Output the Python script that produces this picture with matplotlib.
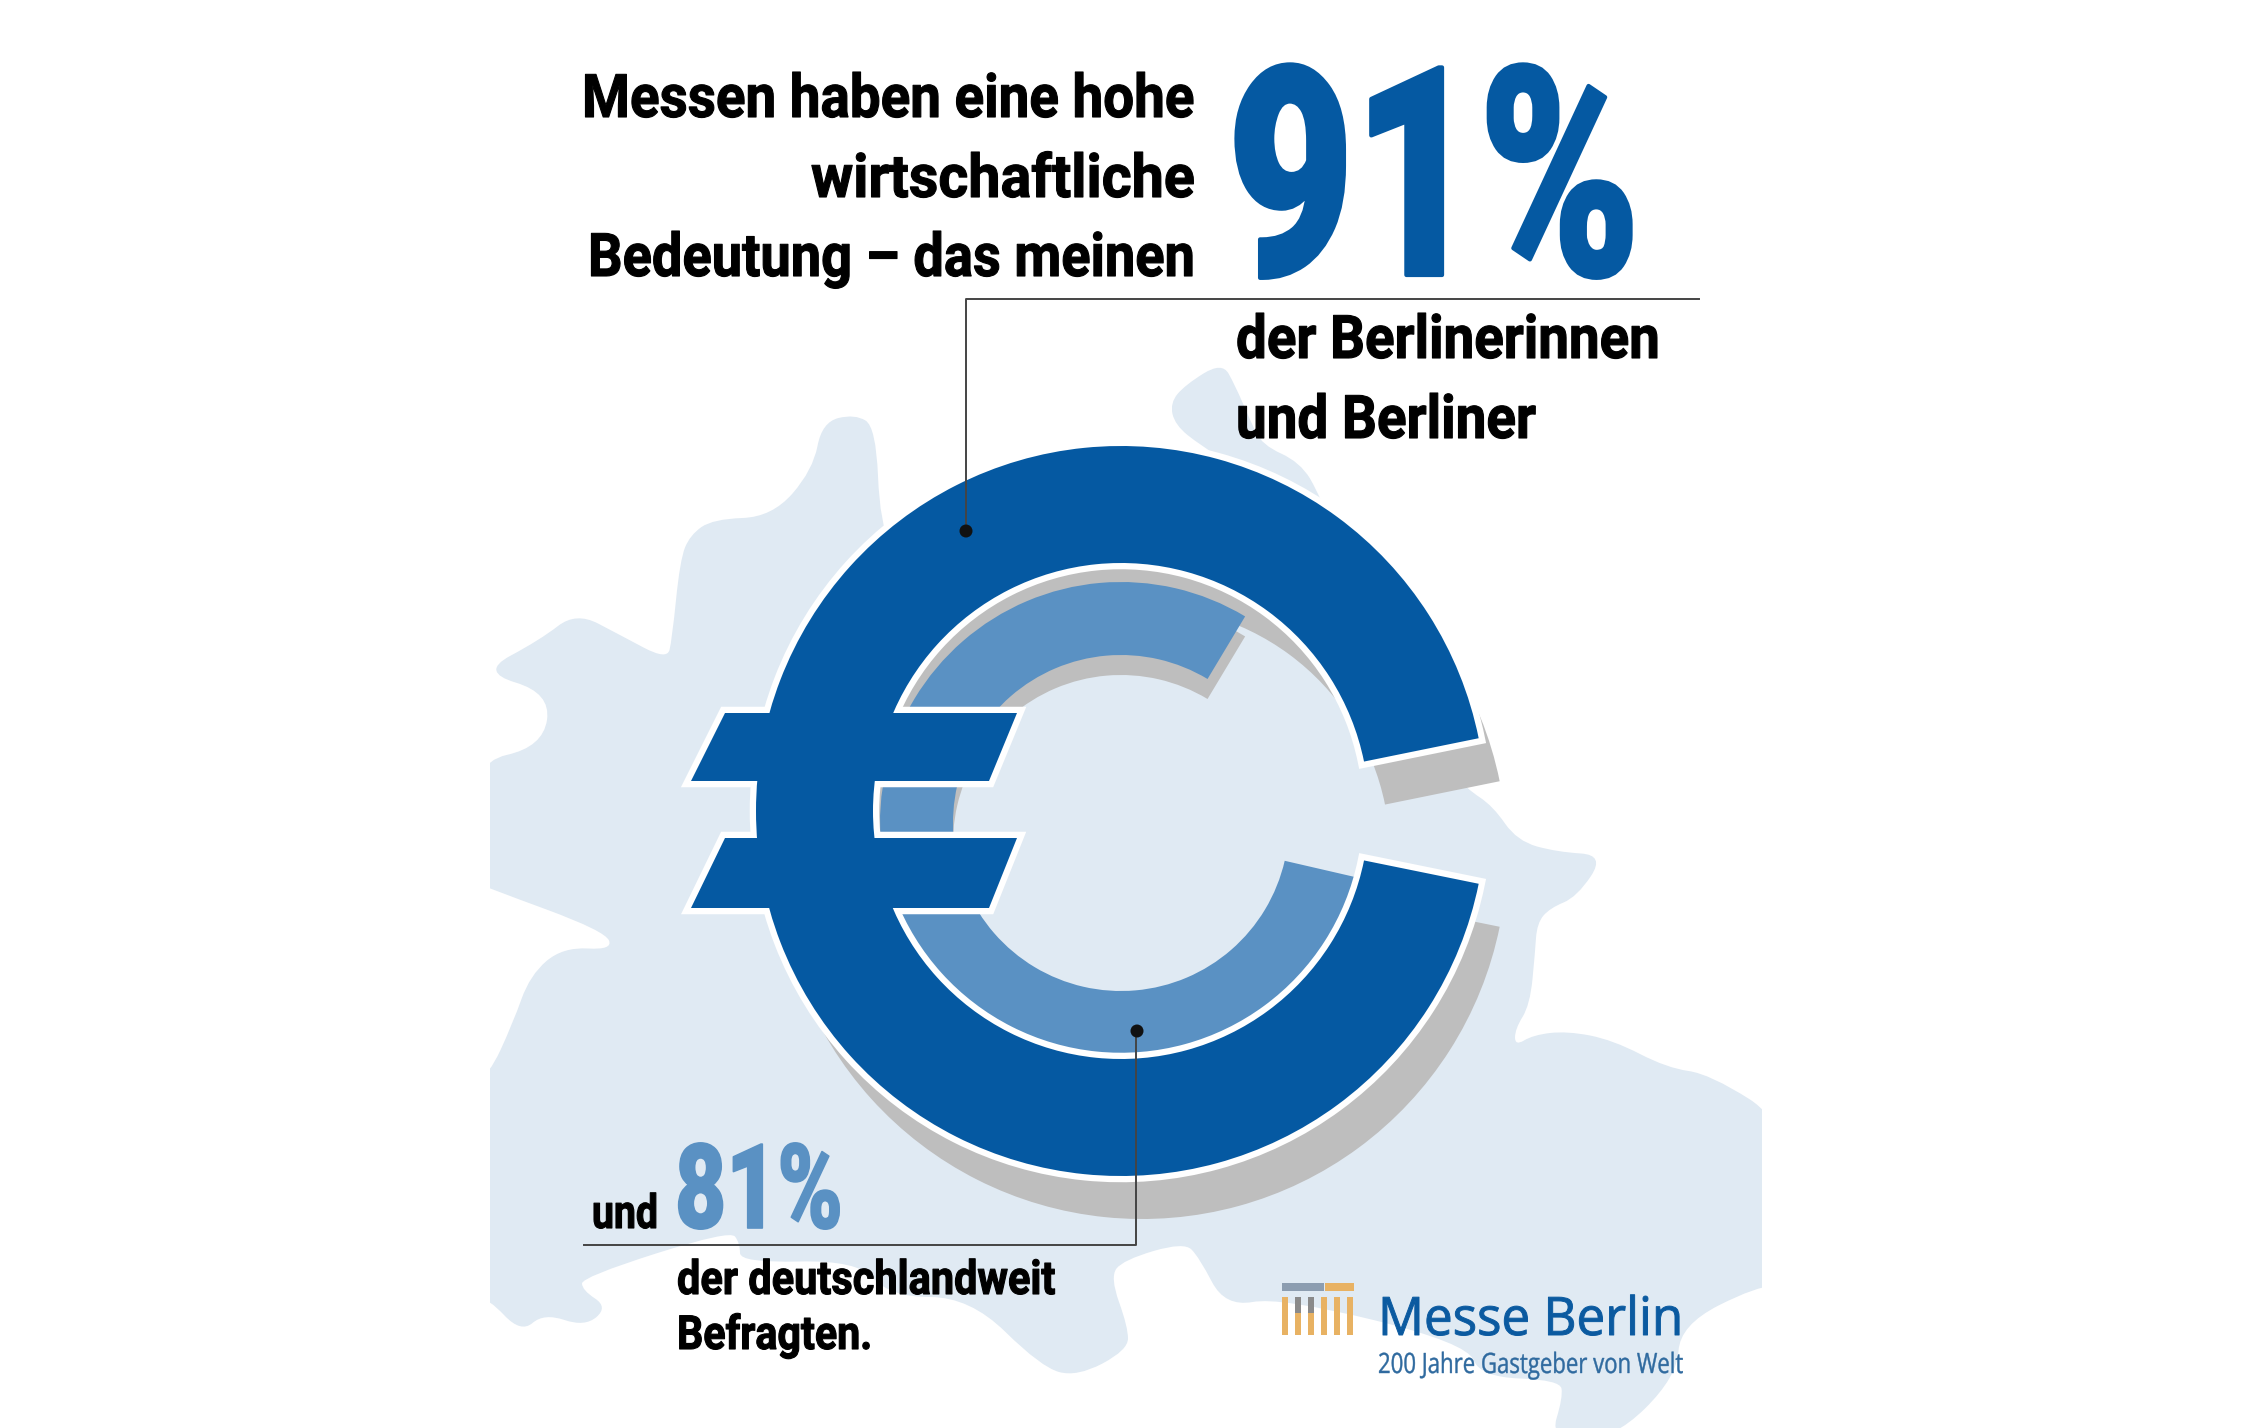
import matplotlib
matplotlib.use('Agg')
import matplotlib.pyplot as plt
from matplotlib.patches import Wedge, Polygon, Circle, PathPatch, Rectangle
from matplotlib.patheffects import AbstractPathEffect
from matplotlib.path import Path
from matplotlib.transforms import Affine2D, Bbox

# survey shares shown in the chart
shares = [91, 81]
headline = ['Messen haben eine hohe', 'wirtschaftliche', 'Bedeutung – das meinen']
sub_berlin = ['der Berlinerinnen', 'und Berliner']
sub_germany = ['der deutschlandweit', 'Befragten.']

BLUE = '#0559A2'
LIGHT = '#5A91C3'
MAP = '#E0EAF3'
SHADOW = '#BEBEBE'
LOGO = '#0B5AA0'

fig = plt.figure(figsize=(22.44, 14.28), dpi=100)
ax = fig.add_axes([0, 0, 1, 1])
ax.set_xlim(0, 2244)
ax.set_ylim(1428, 0)
ax.axis('off')
renderer = fig.canvas.get_renderer()


def to_display(x):
    return ax.transData.transform((x, 0))[0]


class Squeeze(AbstractPathEffect):
    # the original uses a condensed, heavy face: narrow the glyphs around the anchor, thicken a little
    def __init__(self, x, sx, stroke=0, color='k'):
        super().__init__()
        self.x, self.sx, self.stroke, self.color = x, sx, stroke, color

    def draw_path(self, renderer, gc, tpath, affine, rgbFace=None):
        x0 = to_display(self.x)
        aff = affine + Affine2D().translate(-x0, 0).scale(self.sx, 1).translate(x0, 0)
        gc0 = renderer.new_gc()
        gc0.copy_properties(gc)
        if self.stroke:
            gc0.set_linewidth(self.stroke)
            gc0.set_foreground(self.color)
        else:
            gc0.set_linewidth(0)
        renderer.draw_path(gc0, tpath, aff, rgbFace)
        gc0.restore()


def txt(x, y, s, em, width, color='#000000', ha='left', family='Roboto', weight='bold', stroke=0.0, z=10):
    t = ax.text(x, y, s, fontsize=em * 0.72, ha=ha, va='baseline', color=color,
                family=family, fontweight=weight, zorder=z)
    full_extent = t.get_window_extent
    w = full_extent(renderer).width
    sx = width / w
    t.set_path_effects([Squeeze(x, sx, stroke, color)])

    # report the narrowed box, not the one before squeezing
    def narrow_extent(renderer=None, dpi=None):
        b = full_extent(renderer, dpi)
        x0 = to_display(x)
        return Bbox.from_extents(x0 + (b.x0 - x0) * sx, b.y0, x0 + (b.x1 - x0) * sx, b.y1)
    t.get_window_extent = narrow_extent
    return t


def smooth(pts):
    mids = [((pts[i][0] + pts[(i + 1) % len(pts)][0]) / 2,
             (pts[i][1] + pts[(i + 1) % len(pts)][1]) / 2) for i in range(len(pts))]
    verts = [mids[-1]]
    codes = [Path.MOVETO]
    for p, m in zip(pts, mids):
        verts += [p, m]
        codes += [Path.CURVE3, Path.CURVE3]
    return Path(verts, codes)


# Berlin outline behind the euro sign
outline = [
    (470, 1298), (470, 1077), (488, 1077), (513, 1023), (530, 975), (563, 947), (613, 950), (605, 931),
    (488, 888), (470, 880), (470, 763), (543, 747), (551, 693), (480, 672), (540, 640), (576, 612),
    (620, 635), (667, 660), (672, 640), (680, 560), (690, 535), (713, 519), (772, 517), (813, 470),
    (822, 422), (855, 414), (876, 427), (880, 525),
    (900, 560), (1126, 500), (1240, 470), (1200, 445), (1175, 425), (1170, 403), (1185, 385), (1222, 362),
    (1235, 385), (1250, 420), (1262, 445), (1300, 462), (1320, 495), (1440, 760), (1467, 789), (1493, 806),
    (1517, 841), (1557, 852), (1605, 855), (1577, 897), (1550, 908), (1537, 923), (1535, 953), (1530, 1005),
    (1515, 1029), (1515, 1046), (1533, 1035), (1567, 1031), (1613, 1040), (1667, 1068), (1710, 1074),
    (1790, 1125), (1790, 1286), (1757, 1286), (1680, 1325), (1677, 1377), (1613, 1440), (1550, 1440),
    (1563, 1397), (1560, 1380), (1480, 1377), (1467, 1343), (1280, 1297), (1225, 1307), (1199, 1257),
    (1184, 1242), (1123, 1260), (1110, 1277), (1128, 1327), (1128, 1350), (1077, 1377), (1041, 1367),
    (970, 1297), (890, 1297), (858, 1260), (740, 1263), (740, 1243), (730, 1230), (582, 1277), (582, 1290),
    (608, 1307), (585, 1327), (544, 1313), (521, 1333), (488, 1298),
]
land = PathPatch(smooth(outline), fc=MAP, ec='none', zorder=1)
ax.add_patch(land)
land.set_clip_path(Rectangle((490, 0), 1272, 1428, transform=ax.transData))

# euro sign: outer ring and inner ring, angles
cx, cy = 1121, 811
R, r = 365, 248
ring_from, ring_to = 11.5, 348.5
lx, ly = 1121, 823
lR, lr = 241, 168
light_from, light_to = 13, 301

ax.add_patch(Wedge((cx + 21, cy + 43), R, ring_from, ring_to, width=R - r, fc=SHADOW, ec='none', zorder=2))
ax.add_patch(Wedge((lx, ly + 20), lR, light_from, light_to, width=lR - lr, fc=SHADOW, ec='none', zorder=3))
ax.add_patch(Wedge((lx, ly), lR, light_from, light_to, width=lR - lr, fc=LIGHT, ec='none', zorder=4))

bar_top = [(725, 713), (1017, 713), (989, 781), (691, 781)]
bar_low = [(725, 838), (1017, 838), (989, 908), (691, 908)]
ax.add_patch(Wedge((cx, cy), R, ring_from, ring_to, width=R - r, fc='white', ec='white', lw=9, zorder=5))
for bar in (bar_top, bar_low):
    ax.add_patch(Polygon(bar, closed=True, fc='white', ec='white', lw=9, zorder=5))
ax.add_patch(Wedge((cx, cy), R, ring_from, ring_to, width=R - r, fc=BLUE, ec='none', zorder=6))
for bar in (bar_top, bar_low):
    ax.add_patch(Polygon(bar, closed=True, fc=BLUE, ec='none', zorder=6))

# leader lines
ax.plot([1699, 966, 966], [299, 299, 530], color='#444444', lw=1.4, zorder=7)
ax.plot([584, 1136, 1136], [1245, 1245, 1030], color='#444444', lw=1.4, zorder=7)
ax.add_patch(Circle((966, 531), 6.5, fc='#111111', ec='none', zorder=8))
ax.add_patch(Circle((1137, 1031), 6.5, fc='#111111', ec='none', zorder=8))

# headline block
for s, y, w in zip(headline, [117, 197, 276], [613, 384, 607]):
    txt(1195, y, s, 60, w, ha='right', stroke=0.8)
txt(1228, 275, f'{shares[0]}%', 292, 412, color=BLUE, weight='black', stroke=3)
for s, y, w in zip(sub_berlin, [358, 438], [424, 300]):
    txt(1236, y, s, 60, w, stroke=0.8)

txt(592, 1228, 'und', 47, 66, stroke=0.8)
txt(675, 1228, f'{shares[1]}%', 118, 168, color=LIGHT, weight='black', stroke=1.2)
for s, y, w in zip(sub_germany, [1294, 1349], [378, 195]):
    txt(677, y, s, 47, w, stroke=0.8)

# logo
for x0 in [1282, 1295, 1308, 1321, 1334, 1347]:
    ax.add_patch(Rectangle((x0, 1297), 6, 38, fc='#E8B263', ec='none', zorder=8))
for x0 in [1295, 1308]:
    ax.add_patch(Rectangle((x0, 1297), 6, 16, fc='#8A8A8A', ec='none', zorder=9))
ax.add_patch(Rectangle((1282, 1283), 42, 8, fc='#8C9DB0', ec='none', zorder=8))
ax.add_patch(Rectangle((1325, 1283), 29, 8, fc='#E8B263', ec='none', zorder=8))
txt(1378, 1335, 'Messe Berlin', 53, 305, color=LOGO, family='Open Sans', weight='normal', stroke=0.7)
txt(1378, 1373, '200 Jahre Gastgeber von Welt', 28, 305, color='#2F6A9F', family='Open Sans', weight='normal', stroke=0.3)

fig.savefig('out.png', dpi=100, facecolor='white')
